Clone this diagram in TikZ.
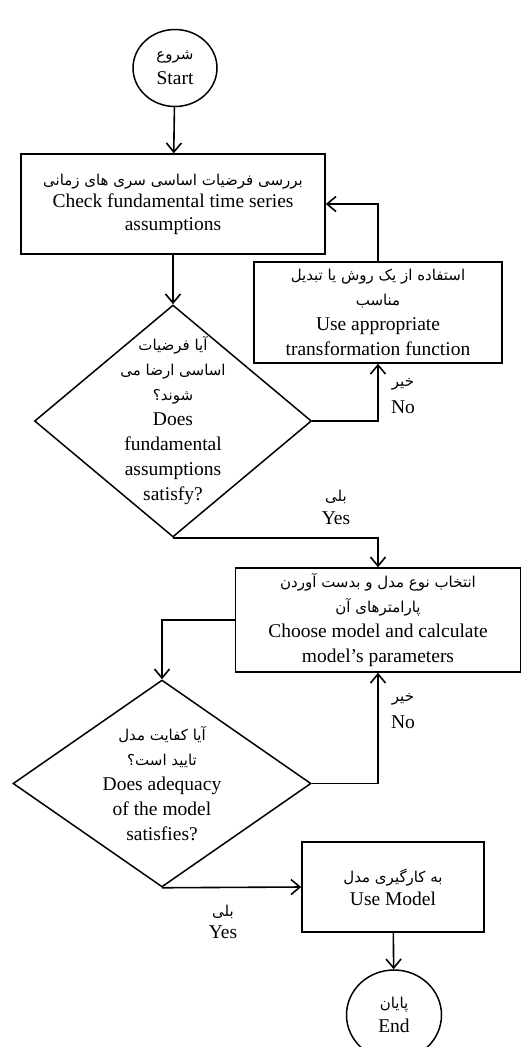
\documentclass[tikz,border=0pt]{standalone}
\usepackage{fontspec}
\setmainfont{Liberation Serif}
\newfontfamily\fafont[Script=Arabic]{DejaVu Sans}
\TeXXeTstate=1
\newcommand{\fa}[1]{{\fafont\fontsize{15}{25}\selectfont\beginR #1\endR}}
\usetikzlibrary{arrows.meta,shapes.geometric}

\begin{document}
\begin{tikzpicture}[x=1pt,y=-1pt,font=\fontsize{19.5}{25}\selectfont,
    hvpath/.style={to path={-| (\tikztotarget)}},
    vhpath/.style={to path={|- (\tikztotarget)}}]
  \useasboundingbox (0,0) rectangle (522,1047);
  \begin{scope}[every node/.style={draw,line width=1.5pt,align=center,inner sep=0pt}]
    \node[ellipse,minimum width=84pt,minimum height=77pt] (0) at (175,68) {\fa{شروع}\\Start};
    \node[rectangle,minimum width=304pt,minimum height=100pt,font=\fontsize{19.5}{22.5}\selectfont] (1) at (173,204)
      {\fa{بررسی فرضیات اساسی سری های زمانی}\\Check fundamental time series\\assumptions};
    \node[rectangle,minimum width=248pt,minimum height=101pt] (2) at (378,312.5)
      {\fa{استفاده  از یک روش یا تبدیل}\\\fa{مناسب}\\Use appropriate\\transformation function};
    \node[diamond,inner sep=-30pt,minimum width=277pt,minimum height=232pt] (3) at (173,421)
      {\fa{آیا فرضیات}\\\fa{اساسی ارضا می}\\\fa{شوند؟}\\Does\\fundamental\\assumptions\\satisfy?};
    \node[rectangle,minimum width=285pt,minimum height=104pt] (4) at (378,620)
      {\fa{انتخاب نوع مدل و بدست آوردن}\\\fa{پارامترهای آن}\\Choose model and calculate\\model's parameters};
    \node[diamond,inner sep=-30pt,minimum width=298pt,minimum height=207pt] (5) at (162,783.5)
      {\fa{آیا کفایت مدل}\\\fa{تایید است؟}\\Does adequacy\\of the model\\satisfies?};
    \node[rectangle,minimum width=182pt,minimum height=90pt,font=\fontsize{19.5}{23}\selectfont] (6) at (393,887)
      {\fa{به کارگیری مدل}\\Use Model};
    \node[ellipse,minimum width=95pt,minimum height=90pt,font=\fontsize{19.5}{24}\selectfont] (7) at (394,1015) {\fa{پایان}\\End};
  \end{scope}
  \begin{scope}[every node/.style={align=center,inner sep=0pt}]
    \node[font=\fontsize{19.5}{27}\selectfont] (no1) at (403,396) {\fa{خیر}\\No};
    \node[font=\fontsize{19.5}{23}\selectfont] (yes1) at (336,507) {\fa{بلی}\\Yes};
    \node[font=\fontsize{19.5}{27}\selectfont] (no2) at (403,711) {\fa{خیر}\\No};
    \node[font=\fontsize{19.5}{22}\selectfont] (yes2) at (223,922) {\fa{بلی}\\Yes};
  \end{scope}
  \begin{scope}[>={Straight Barb[length=9pt,width=15pt]},every edge/.style={draw=black,line width=1.6pt}]
    \path[->] (0) edge (1);
    \path[->] (1) edge (3);
    \path[->] (2.north) edge[vhpath] (1.east);
    \path[->] (3.east) edge[hvpath] (2.south);
    \path[->] (3.south) edge[hvpath] (4.north);
    \path[->] (4.west) edge[hvpath] (5.north);
    \path[->] (5.east) edge[hvpath] (4.south);
    \path[->] (5.south) edge (6.west);
    \path[->] (6) edge (7);
  \end{scope}
\end{tikzpicture}
\end{document}
